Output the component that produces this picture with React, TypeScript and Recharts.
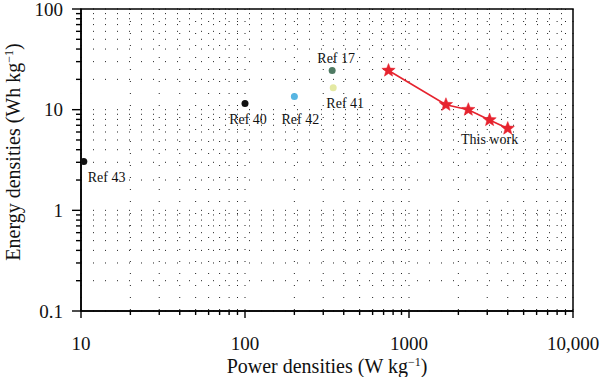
import React from "react";
import { CartesianGrid, LabelList, ReferenceArea, Scatter, ScatterChart, XAxis, YAxis } from "recharts";

// tick values (decades + minor steps)
const powerTicks = [10, 20, 30, 40, 50, 60, 70, 80, 90, 100, 200, 300, 400, 500, 600, 700, 800, 900, 1000, 2000, 3000, 4000, 5000, 6000, 7000, 8000, 9000, 10000];
const energyTicks = [0.1, 0.2, 0.3, 0.4, 0.5, 0.6, 0.7, 0.8, 0.9, 1, 2, 3, 4, 5, 6, 7, 8, 9, 10, 20, 30, 40, 50, 60, 70, 80, 90, 100];

// literature points
const refNames = ["Ref 43", "Ref 40", "Ref 42", "Ref 17", "Ref 41"];
const refPower = [10.4, 100, 200, 340, 345];
const refEnergy = [3.05, 11.5, 13.5, 24.5, 16.5];

// this work
const workPower = [750, 1680, 2300, 3100, 4000];
const workEnergy = [24.5, 11.2, 10, 7.9, 6.5];

const FONT = "'Liberation Serif', 'DejaVu Serif', serif";
const RED = "#e6232e";

const isMajor = (v: number) => Math.abs(Math.log10(v) - Math.round(Math.log10(v))) < 1e-6;
const fmt = (v: number) => (v >= 10000 ? v.toLocaleString("en-US") : String(v));

const XTick = (props: any) => {
  const { x, y, payload } = props;
  const major = isMajor(payload.value);
  return (
    <g>
      <line x1={x} x2={x} y1={y} y2={y + (major ? 7 : 4)} stroke="#000" strokeWidth={1.4} />
      {major && (
        <text x={x} y={y + 39} textAnchor="middle" fontFamily={FONT} fontSize={19} fill="#111">
          {fmt(payload.value)}
        </text>
      )}
    </g>
  );
};

const YTick = (props: any) => {
  const { x, y, payload } = props;
  const major = isMajor(payload.value);
  return (
    <g>
      <line x1={x - (major ? 9 : 5)} x2={x} y1={y} y2={y} stroke="#000" strokeWidth={1.4} />
      {major && (
        <text x={x - 18} y={y} textAnchor="end" dominantBaseline="central" fontFamily={FONT} fontSize={19} fill="#111">
          {fmt(payload.value)}
        </text>
      )}
    </g>
  );
};

const XLabel = ({ viewBox }: any) => (
  <text x={viewBox.x + viewBox.width / 2} y={viewBox.y + 62} textAnchor="middle" fontFamily={FONT} fontSize={20} fill="#111">
    Power densities (W kg
    <tspan dy={-7} fontSize={12}>−1</tspan>
    <tspan dy={7}>)</tspan>
  </text>
);

const YLabel = ({ viewBox }: any) => {
  const cx = 20;
  const cy = viewBox.y + viewBox.height / 2 - 8;
  return (
    <text x={cx} y={cy} transform={`rotate(-90, ${cx}, ${cy})`} textAnchor="middle" fontFamily={FONT} fontSize={20} fill="#111">
      Energy densities (Wh kg
      <tspan dy={-7} fontSize={12}>−1</tspan>
      <tspan dy={7}>)</tspan>
    </text>
  );
};

const dotShape = (color: string, label: string, dx: number, dy: number, anchor = "middle") => (p: any) => (
  <g>
    <circle cx={p.cx} cy={p.cy} r={3.5} fill={color} />
    <text x={p.cx + dx} y={p.cy + dy} textAnchor={anchor} fontFamily={FONT} fontSize={14} fill="#111">
      {label}
    </text>
  </g>
);

const starPoints = (cx: number, cy: number, ro: number, ri: number) => {
  const pts: string[] = [];
  for (let i = 0; i < 10; i++) {
    const r = i % 2 === 0 ? ro : ri;
    const a = -Math.PI / 2 + (i * Math.PI) / 5;
    pts.push(`${cx + r * Math.cos(a)},${cy + r * Math.sin(a)}`);
  }
  return pts.join(" ");
};

const StarShape = (p: any) => <polygon points={starPoints(p.cx, p.cy, 7, 3)} fill={RED} stroke={RED} strokeWidth={0.5} />;

const refStyles = [
  { color: "#111", dx: 4, dy: 20, anchor: "start" },
  { color: "#111", dx: 3, dy: 20, anchor: "middle" },
  { color: "#57b5e2", dx: 6, dy: 27, anchor: "middle" },
  { color: "#4f7a63", dx: 4, dy: -7, anchor: "middle" },
  { color: "#e4e9a3", dx: 12, dy: 20, anchor: "middle" },
];

export default function App() {
  const workData = workPower.map((x, i) => ({ x, y: workEnergy[i], name: i === 3 ? "This work" : "" }));
  return (
    <div style={{ position: "absolute", left: 0, top: 0, width: 600, height: 377, background: "#fff" }}>
      <ScatterChart width={600} height={377} margin={{ top: 9, right: 27, bottom: 0, left: 0 }}>
        <CartesianGrid stroke="#222" strokeDasharray="1 11" strokeWidth={1} />
        <XAxis
          type="number"
          dataKey="x"
          scale="log"
          domain={[10, 10000]}
          ticks={powerTicks}
          interval={0}
          allowDataOverflow
          height={66}
          tickSize={0}
          tickMargin={0}
          tickLine={false}
          tick={<XTick />}
          axisLine={{ stroke: "#000", strokeWidth: 1.5 }}
          label={<XLabel />}
        />
        <YAxis
          type="number"
          dataKey="y"
          scale="log"
          domain={[0.1, 100]}
          ticks={energyTicks}
          interval={0}
          allowDataOverflow
          width={81}
          tickSize={0}
          tickMargin={0}
          tickLine={false}
          tick={<YTick />}
          axisLine={{ stroke: "#000", strokeWidth: 1.5 }}
          label={<YLabel />}
        />
        <ReferenceArea x1={10} x2={10000} y1={0.1} y2={100} fill="none" stroke="#000" strokeWidth={1.5} />
        {refNames.map((name, i) => (
          <Scatter
            key={name}
            data={[{ x: refPower[i], y: refEnergy[i] }]}
            isAnimationActive={false}
            shape={dotShape(refStyles[i].color, name, refStyles[i].dx, refStyles[i].dy, refStyles[i].anchor)}
          />
        ))}
        <Scatter
          data={workData}
          isAnimationActive={false}
          line={{ stroke: RED, strokeWidth: 1.6 }}
          lineType="joint"
          shape={StarShape}
          fill={RED}
        >
          <LabelList
            dataKey="name"
            content={(p: any) =>
              p.value ? (
                <text x={p.x + (p.width || 0) / 2} y={p.y + (p.height || 0) / 2 + 24} textAnchor="middle" fontFamily={FONT} fontSize={14} fill="#111">
                  {p.value}
                </text>
              ) : null
            }
          />
        </Scatter>
      </ScatterChart>
    </div>
  );
}
